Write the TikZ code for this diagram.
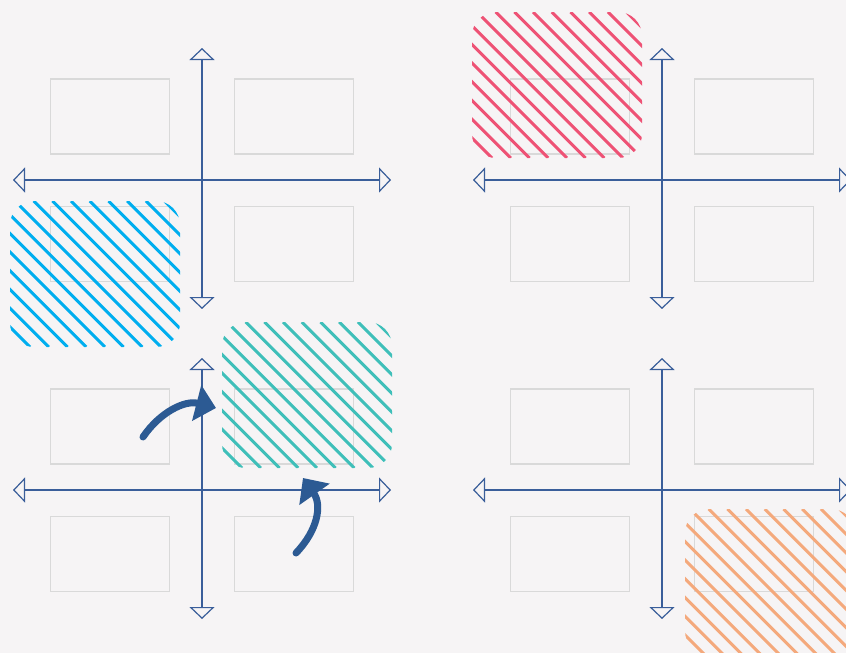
\documentclass[tikz,border=0pt]{standalone}
\usetikzlibrary{arrows.meta,positioning}

\definecolor{bgpaper}{HTML}{F6F4F5}
\definecolor{axisblue}{HTML}{3A5E9A}
\definecolor{cellgray}{HTML}{D9D9D9}
\definecolor{arrowblue}{HTML}{2C5A93}
\definecolor{hatchcyan}{HTML}{00AEEF}
\definecolor{hatchred}{HTML}{EE5275}
\definecolor{hatchteal}{HTML}{3FBFB9}
\definecolor{hatchorange}{HTML}{F4A97C}

\tikzset{
    quadaxis/.style={draw=axisblue, line width=1.2pt,
        {Triangle[open,length=12pt,width=25pt]}-{Triangle[open,length=12pt,width=25pt]}},
    cell/.style={draw=cellgray, line width=1.2pt, minimum width=119pt,
        minimum height=75pt, inner sep=0pt},
    swaparrow/.style={draw=arrowblue, line width=7pt, line cap=round,
        -{Triangle[length=20pt,width=36pt]}},
}

\begin{document}
\begin{tikzpicture}[x=1pt, y=-1pt]
    % page and background
    \useasboundingbox (0,0) rectangle (846,653);
    \clip (0,0) rectangle (846,653);
    \fill[bgpaper] (0,0) rectangle (846,653);

    % four quadrant charts: axes and cells
    \foreach \qx/\qy/\q in {202/180/a, 662/180/b, 202/490/c, 662/490/d} {
        \coordinate (\q-w) at (\qx-189,\qy);
        \coordinate (\q-e) at (\qx+189,\qy);
        \coordinate (\q-n) at (\qx,\qy-132);
        \coordinate (\q-s) at (\qx,\qy+129);
        \draw[quadaxis] (\q-w) -- (\q-e);
        \draw[quadaxis] (\q-n) -- (\q-s);
        \node[cell] (\q-nw) at (\qx-92,\qy-63.5) {};
        \node[cell] (\q-ne) at (\qx+92,\qy-63.5) {};
        \node[cell] (\q-sw) at (\qx-92,\qy+64) {};
        \node[cell] (\q-se) at (\qx+92,\qy+64) {};
    }

    % hatched patches
    \foreach \px/\py/\col in {10/201/hatchcyan, 472/12/hatchred,
                              222/322/hatchteal, 685/509/hatchorange} {
        \begin{scope}[shift={(\px,\py)}]
            \clip[rounded corners=24pt] (0,0) rectangle (170,146);
            \foreach \i in {-8,...,9}
                \draw[\col, line width=3pt] (5+\i*18.7,0) -- ++(146,146);
        \end{scope}
    }

    % moves into the teal patch
    \coordinate (lift-a) at (143,437);
    \coordinate (lift-b) at (216,408);
    \draw[swaparrow] (lift-a) .. controls (160,412) and (185,400) .. (lift-b);
    \coordinate (rise-a) at (296,553);
    \coordinate (rise-b) at (303,478);
    \draw[swaparrow] (rise-a) .. controls (318,530) and (322,505) .. (rise-b);
\end{tikzpicture}
\end{document}
